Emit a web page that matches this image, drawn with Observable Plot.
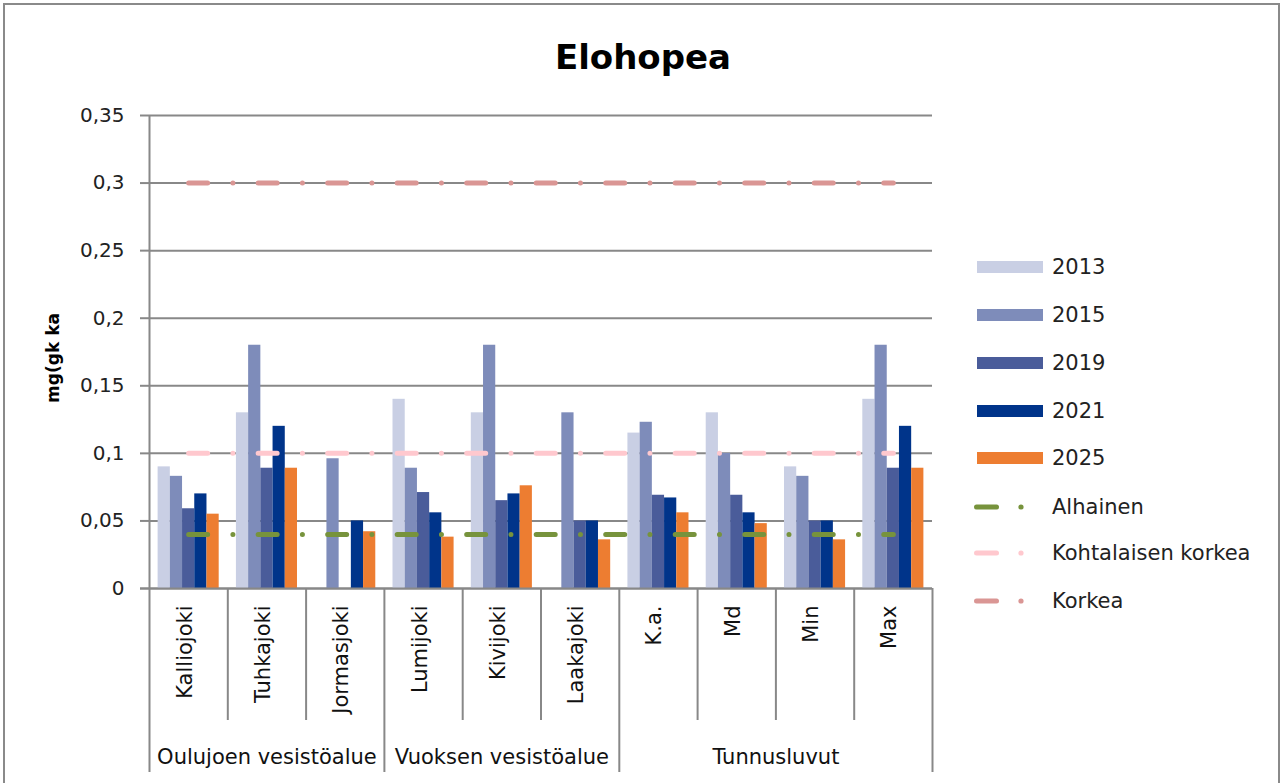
<!DOCTYPE html>
<html>
<head>
<meta charset="utf-8">
<script src="https://cdn.jsdelivr.net/npm/d3@7"></script>
<script src="https://cdn.jsdelivr.net/npm/@observablehq/plot@0.6"></script>
<style>
  html, body { margin: 0; padding: 0; background: #fff; overflow: hidden; }
  #wrap { position: relative; width: 1281px; height: 783px; overflow: hidden; font-family: "DejaVu Sans", sans-serif; color: #222; }
  #frame { position: absolute; left: 3px; top: 3px; width: 1273px; height: 820px; border: 2px solid #8a8a8a; box-sizing: content-box; }
  #title { position: absolute; left: 0; width: 1286px; top: 37px; text-align: center; font-weight: bold; font-size: 34px; line-height: 40px; color: #000; }
  #chart { position: absolute; left: 0; top: 0; }
  #legend { position: absolute; left: 0; top: 0; }
  .lg { position: absolute; left: 972px; height: 30px; display: flex; align-items: center; font-size: 21px; }
  .lg .sw { width: 74px; height: 30px; display: flex; align-items: center; }
  .lg span { position: absolute; left: 80px; white-space: nowrap; }
</style>
</head>
<body>
<div id="wrap">
  <div id="frame"></div>
  <div id="chart"></div>
  <div id="title">Elohopea</div>
  <div id="legend"></div>
</div>
<script>
// ---- data ----
const categories = ["Kalliojoki", "Tuhkajoki", "Jormasjoki", "Lumijoki", "Kivijoki", "Laakajoki", "K.a.", "Md", "Min", "Max"];
const groups = ["Oulujoen vesistöalue", "Vuoksen vesistöalue", "Tunnusluvut"];
const groupOf = [0, 0, 0, 1, 1, 1, 2, 2, 2, 2];
const years = ["2013", "2015", "2019", "2021", "2025"];
const v2013 = [0.09, 0.13, null, 0.14, 0.13, null, 0.115, 0.13, 0.09, 0.14];
const v2015 = [0.083, 0.18, 0.096, 0.089, 0.18, 0.13, 0.123, 0.1, 0.083, 0.18];
const v2019 = [0.059, 0.089, null, 0.071, 0.065, 0.05, 0.069, 0.069, 0.05, 0.089];
const v2021 = [0.07, 0.12, 0.05, 0.056, 0.07, 0.05, 0.067, 0.056, 0.05, 0.12];
const v2025 = [0.055, 0.089, 0.042, 0.038, 0.076, 0.036, 0.056, 0.048, 0.036, 0.089];
const thresholdNames = ["Alhainen", "Kohtalaisen korkea", "Korkea"];
const thresholdValues = [0.04, 0.1, 0.3];
const yTicks = [0, 0.05, 0.1, 0.15, 0.2, 0.25, 0.3, 0.35];
const yLabel = "mg(gk ka";

// ---- styles ----
const yearColors = ["#C9CFE4", "#7E8CBA", "#4A5C9A", "#00348A", "#ED7D31"];
const thresholdColors = ["#77933C", "#FFC8CE", "#DA9694"];
const barFrac = 0.156; // bar width as fraction of a category band
const dash = "19,25.25,0.01,25.25";

// ---- tables ----
const series = [v2013, v2015, v2019, v2021, v2025];
const bars = [];
series.forEach((vals, j) => vals.forEach((v, i) => {
  if (v != null) bars.push({cat: categories[i], year: years[j], value: v,
    x1: i + 0.5 + (j - 2.5) * barFrac, x2: i + 0.5 + (j - 1.5) * barFrac});
}));
const catPos = categories.map((c, i) => ({cat: c, x: i + 0.5, g: groupOf[i]}));
const lines = [];
thresholdNames.forEach((n, k) => catPos.forEach(p => lines.push({name: n, x: p.x, y: thresholdValues[k]})));
const groupPos = groups.map((g, k) => {
  const idx = groupOf.map((gg, i) => gg === k ? i : -1).filter(i => i >= 0);
  return {name: g, x: (idx[0] + idx[idx.length - 1] + 1) / 2, start: idx[0]};
});
const innerSeps = d3.range(1, categories.length).filter(i => groupOf[i] === groupOf[i - 1]);
const groupSeps = groupPos.slice(1).map(g => g.start).concat([categories.length]);

const mt = 115, mb = 195, H = 783;
const frameH = H - mt - mb;

const chart = Plot.plot({
  width: 1281, height: H,
  marginLeft: 149, marginRight: 349, marginTop: mt, marginBottom: mb,
  style: {fontFamily: "DejaVu Sans", fontSize: "20px", color: "#222", background: "transparent", overflow: "visible"},
  x: {type: "linear", domain: [0, categories.length], axis: null},
  y: {domain: [0, 0.35], axis: null},
  color: {domain: years, range: yearColors},
  marks: [
    Plot.ruleY(yTicks, {stroke: "#888", strokeWidth: 2}),
    Plot.rectY(bars, {x1: "x1", x2: "x2", y: "value", fill: "year"}),
    Plot.lineY(lines, {x: "x", y: "y", z: "name", stroke: d => thresholdColors[thresholdNames.indexOf(d.name)],
      strokeWidth: 5, strokeLinecap: "round", strokeDasharray: dash}),
    Plot.axisY({ticks: yTicks, tickFormat: d => String(+d.toFixed(2)).replace(".", ","), tickSize: 9, tickPadding: 16,
      fontSize: 20, stroke: "#888", strokeWidth: 2, fill: "#222", label: null}),
    // left axis line, extending down to the group boxes
    Plot.ruleX([0], {stroke: "#888", strokeWidth: 2, insetBottom: -184}),
    // inner category separators
    Plot.ruleX(innerSeps, {stroke: "#888", strokeWidth: 2, insetTop: frameH, insetBottom: -132}),
    // group separators
    Plot.ruleX(groupSeps, {stroke: "#888", strokeWidth: 2, insetTop: frameH, insetBottom: -184}),
    // bottom tick to left
    Plot.ruleY([0], {stroke: "#888", strokeWidth: 2, insetLeft: -9}),
    Plot.text(catPos, {x: "x", text: "cat", frameAnchor: "bottom", rotate: -90, textAnchor: "end", dy: 17, dx: 3, fontSize: 21, fill: "#111"}),
    Plot.text(groupPos, {x: "x", text: "name", frameAnchor: "bottom", dy: 175, fontSize: 21, fill: "#111"}),
    Plot.text([yLabel], {text: d => d, frameAnchor: "left", rotate: -90, textAnchor: "middle", dx: -96, dy: 6, fontWeight: "bold", fontSize: 17, fill: "#000"})
  ]
});
document.getElementById("chart").appendChild(chart);

// ---- legend ----
const legend = document.getElementById("legend");
const rowY = [267, 315, 363, 411, 458, 507, 553, 601];
const items = years.map((y, j) => ({label: y, type: "bar", color: yearColors[j]}))
  .concat(thresholdNames.map((n, k) => ({label: n, type: "line", color: thresholdColors[k]})));
items.forEach((it, k) => {
  const row = document.createElement("div");
  row.className = "lg";
  row.style.top = (rowY[k] - 15) + "px";
  const sw = document.createElement("div");
  sw.className = "sw";
  if (it.type === "bar") {
    sw.innerHTML = `<svg width="74" height="30"><rect x="5" y="9" width="66" height="12" fill="${it.color}"/></svg>`;
  } else {
    sw.innerHTML = `<svg width="74" height="30"><line x1="4.5" x2="24.5" y1="15" y2="15" stroke="${it.color}" stroke-width="5" stroke-linecap="round"/><circle cx="49" cy="15" r="2.6" fill="${it.color}"/></svg>`;
  }
  row.appendChild(sw);
  const t = document.createElement("span");
  t.textContent = it.label;
  row.appendChild(t);
  legend.appendChild(row);
});
</script>
</body>
</html>
